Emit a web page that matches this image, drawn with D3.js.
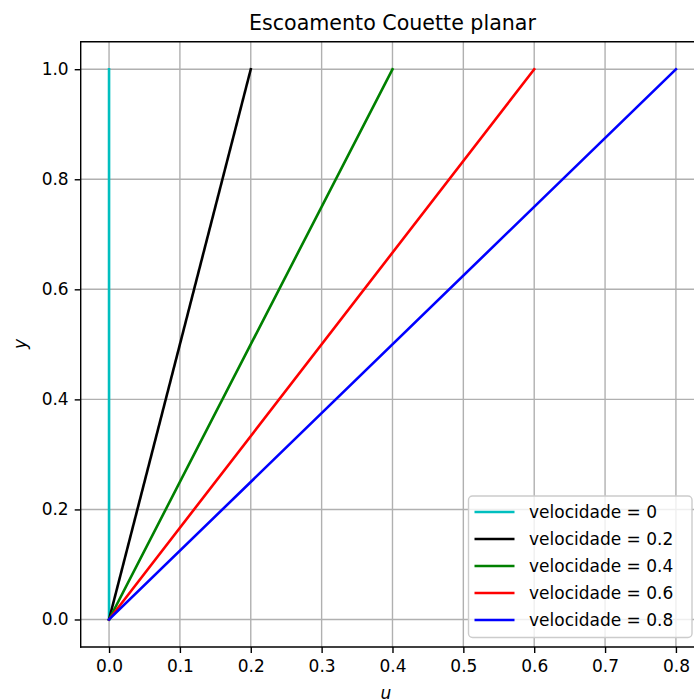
<!DOCTYPE html>
<html>
<head>
<meta charset="utf-8">
<script src="https://cdn.jsdelivr.net/npm/d3@7"></script>
<style>
  html, body { margin: 0; padding: 0; background: #fff; }
  svg { display: block; font-family: "DejaVu Sans", sans-serif; }
</style>
</head>
<body>
<svg id="chart" width="694" height="699"></svg>
<script>
// ---- data ----
const yPoints = [0, 1];
const velocities = [0, 0.2, 0.4, 0.6, 0.8];
const seriesU0 = [0, 0];
const seriesU02 = [0, 0.2];
const seriesU04 = [0, 0.4];
const seriesU06 = [0, 0.6];
const seriesU08 = [0, 0.8];
const seriesLabels = ["velocidade = 0", "velocidade = 0.2", "velocidade = 0.4", "velocidade = 0.6", "velocidade = 0.8"];
const seriesColors = ["#00bfbf", "#000000", "#008000", "#ff0000", "#0000ff"];
const xTicks = [0, 0.1, 0.2, 0.3, 0.4, 0.5, 0.6, 0.7, 0.8];
const yTicks = [0, 0.2, 0.4, 0.6, 0.8, 1.0];
const titleText = "Escoamento Couette planar";

const allSeries = [seriesU0, seriesU02, seriesU04, seriesU06, seriesU08];

// ---- layout ----
const svg = d3.select("#chart");
const plotLeft = 80.7, plotTop = 41.7, plotBottom = 647;
const x = d3.scaleLinear().domain([-0.04, 0.84]).range([plotLeft, plotLeft + 0.88 * 708.6]);
const y = d3.scaleLinear().domain([-0.05, 1.05]).range([plotBottom, plotTop]);
const plotRight = x(0.84);

// grid
const g = svg.append("g");
g.selectAll(".gx").data(xTicks).enter().append("line")
  .attr("x1", d => x(d)).attr("x2", d => x(d))
  .attr("y1", plotTop).attr("y2", plotBottom)
  .attr("stroke", "#b0b0b0").attr("stroke-width", 1.4);
g.selectAll(".gy").data(yTicks).enter().append("line")
  .attr("y1", d => y(d)).attr("y2", d => y(d))
  .attr("x1", plotLeft).attr("x2", plotRight)
  .attr("stroke", "#b0b0b0").attr("stroke-width", 1.4);

// lines
const line = d3.line().x(d => x(d[0])).y(d => y(d[1]));
allSeries.forEach((s, i) => {
  const pts = s.map((u, k) => [u, yPoints[k]]);
  svg.append("path").attr("d", line(pts))
    .attr("fill", "none").attr("stroke", seriesColors[i])
    .attr("stroke-width", 2.6).attr("stroke-linecap", "square");
});

// axes
const xAxis = d3.axisBottom(x).tickValues(xTicks).tickFormat(d3.format(".1f"))
  .tickSize(6).tickPadding(6);
const yAxis = d3.axisLeft(y).tickValues(yTicks).tickFormat(d3.format(".1f"))
  .tickSize(6).tickPadding(6);
const gx = svg.append("g").attr("transform", `translate(0,${plotBottom})`).call(xAxis);
const gy = svg.append("g").attr("transform", `translate(${plotLeft},0)`).call(yAxis);
[gx, gy].forEach(a => {
  a.select(".domain").remove();
  a.selectAll(".tick line").attr("stroke", "#000").attr("stroke-width", 1.4);
  a.selectAll(".tick text").attr("fill", "#000")
    .style("font-family", "DejaVu Sans").style("font-size", "17px");
});
gx.selectAll(".tick text").attr("dy", "0.75em");

// spines
const spine = (x1, y1, x2, y2) => svg.append("line")
  .attr("x1", x1).attr("y1", y1).attr("x2", x2).attr("y2", y2)
  .attr("stroke", "#000").attr("stroke-width", 1.4).attr("stroke-linecap", "square");
spine(plotLeft, plotTop, plotLeft, plotBottom);
spine(plotLeft, plotBottom, plotRight, plotBottom);
spine(plotLeft, plotTop, plotRight, plotTop);
spine(plotRight, plotTop, plotRight, plotBottom);

// title
svg.append("text").attr("x", (plotLeft + plotRight) / 2).attr("y", 30)
  .attr("text-anchor", "middle").style("font-size", "20.6px").text(titleText);

// axis labels
svg.append("text").attr("x", 386).attr("y", 698.5).attr("text-anchor", "middle")
  .style("font-size", "17px").style("font-style", "italic").text("u");
svg.append("text").attr("transform", "translate(26,344) rotate(-90)")
  .attr("text-anchor", "middle")
  .style("font-size", "17px").style("font-style", "italic").text("y");

// legend
const lg = svg.append("g");
lg.append("rect").attr("x", 468.5).attr("y", 496).attr("width", 223.5).attr("height", 141.5)
  .attr("rx", 4).attr("fill", "#fff").attr("fill-opacity", 0.8)
  .attr("stroke", "#cccccc").attr("stroke-width", 1.4);
const rowY = d3.scaleLinear().domain([0, 4]).range([512, 620]);
seriesLabels.forEach((lab, i) => {
  lg.append("line").attr("x1", 474.5).attr("x2", 514.5)
    .attr("y1", rowY(i)).attr("y2", rowY(i))
    .attr("stroke", seriesColors[i]).attr("stroke-width", 2.6);
  lg.append("text").attr("x", 529).attr("y", rowY(i) + 6)
    .style("font-size", "17px").text(lab);
});
</script>
</body>
</html>
